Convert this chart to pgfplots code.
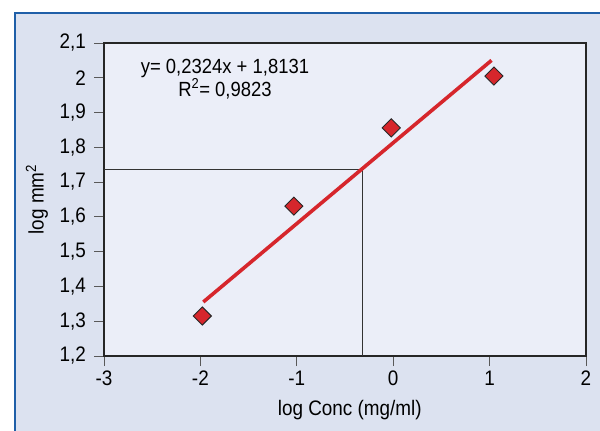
\documentclass[border=0pt]{standalone}
\usepackage{pgfplots}
\pgfplotsset{compat=1.18}
\usepackage{fontspec}
\setmainfont{Liberation Sans}[FakeStretch=0.9]
\definecolor{framefill}{HTML}{DCE2F0}
\definecolor{plotfill}{HTML}{EBEEF8}
\definecolor{frameblue}{HTML}{1F5FA8}
\definecolor{myred}{HTML}{D6262C}
\begin{document}
\fontsize{21bp}{24bp}\selectfont
\begin{tikzpicture}
\useasboundingbox (0,0) rectangle (600bp,431bp);
\fill[framefill] (15bp,-20bp) rectangle (620bp,418bp);
\draw[frameblue, line width=2.2bp] (15bp,-20bp) -- (15bp,418bp) -- (620bp,418bp);
\begin{axis}[
  at={(104bp,75bp)}, anchor=south west,
  scale only axis, width=482bp, height=313bp,
  xmin=-3, xmax=2, ymin=1.2, ymax=2.1,
  xtick={-3,-2,-1,0,1,2},
  ytick={1.2,1.3,1.4,1.5,1.6,1.7,1.8,1.9,2,2.1},
  axis background/.style={fill=plotfill},
  axis line style={line width=1.4bp, draw=black!85},
  tick style={line width=1bp, draw=black!65},
  tick align=outside, major tick length=10bp,
  xtick pos=lower, ytick pos=left,
  /pgf/number format/assume math mode=true,
  /pgf/number format/use comma,
  yticklabel style={/pgf/number format/fixed, /pgf/number format/precision=1, inner sep=0pt, xshift=-8bp},
  xticklabel style={inner sep=0pt, yshift=-5bp},
  xlabel={log Conc (mg/ml)},
  ylabel={log mm\textsuperscript{2}},
  xlabel style={at={(axis description cs:0.51,-0.1725)}, anchor=center},
  ylabel style={at={(axis description cs:-0.139,0.5)}, anchor=center},
  clip=false,
]
\addplot[black!80, line width=0.8bp] coordinates {(-3,1.7378) (-0.324,1.7378) (-0.324,1.2)};
\addplot[myred, line width=3.6bp] coordinates {(-1.97,1.3553) (1.02,2.0501)};
\addplot[only marks, mark=square*, mark size=6.4bp,
  mark options={rotate=45, fill=myred, draw=black!85, line width=0.9bp}]
  coordinates {(-1.98,1.315) (-1.03,1.631) (-0.02,1.856) (1.045,2.005)};
\node[align=center, font=\fontsize{20.5bp}{18bp}\selectfont] at (axis cs:-1.745,1.996)
  {y= 0,2324x + 1,8131\\R\textsuperscript{2}= 0,9823};
\end{axis}
\end{tikzpicture}
\end{document}
